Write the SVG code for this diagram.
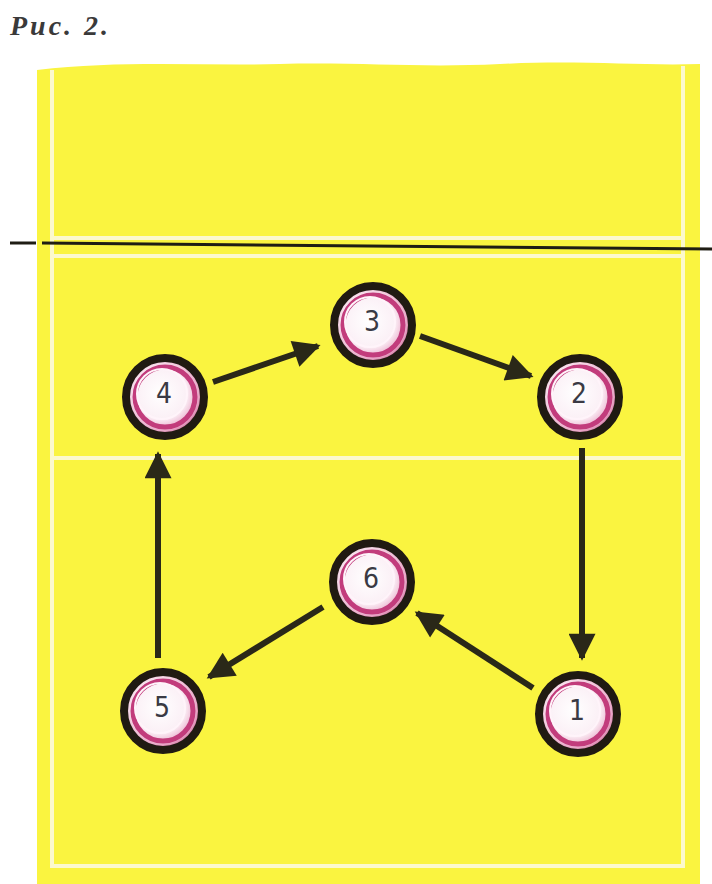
<svg xmlns="http://www.w3.org/2000/svg" width="712" height="884" viewBox="0 0 712 884">
  <style>
    .court { fill: #faf440; }
    .line { stroke: #fcf9cc; stroke-width: 4; fill: none; }
    .net { stroke: #1f1d14; stroke-width: 3; fill: none; }
    .ring { fill: url(#face); stroke: #201a12; stroke-width: 8; }
    .pink { fill: none; stroke: #c23c7c; stroke-width: 5; }
    .hl { fill: none; stroke: #fff4fa; stroke-width: 2; }
    .num { font-family: "DejaVu Sans Condensed", "DejaVu Sans", sans-serif; font-size: 28px; fill: #3a3a44; text-anchor: middle; dominant-baseline: central; }
    .arrow { stroke: #2a2818; stroke-width: 6; fill: none; marker-end: url(#head); }
    .title { font-family: "Liberation Serif", "DejaVu Serif", serif; font-size: 28px; font-weight: bold; font-style: italic; fill: #3a3a3a; letter-spacing: 3px; }
  </style>
  <defs>
    <radialGradient id="face" cx="0.45" cy="0.45" r="0.6">
      <stop offset="0" stop-color="#ffffff"/>
      <stop offset="0.55" stop-color="#fbf0f6"/>
      <stop offset="0.8" stop-color="#e9a8c8"/>
      <stop offset="1" stop-color="#b83a74"/>
    </radialGradient>
    <marker id="head" viewBox="0 0 10 10" refX="9" refY="5" markerWidth="5.5" markerHeight="4.5" orient="auto" markerUnits="strokeWidth">
      <path d="M0,0 L10,5 L0,10 z" fill="#2a2818"/>
    </marker>
  </defs>
  <rect width="712" height="884" fill="#ffffff"/>
  <text class="title" x="10" y="35">Рис. 2.</text>

  <g id="court">
    <path class="court" d="M37,70 C120,60 200,66 280,64 C360,62 420,68 500,64 C580,60 640,66 700,64 L700,884 L37,884 Z"/>
    <path class="line" d="M52,70 L52,866 L683,866 L683,66"/>
    <line class="line" x1="52" y1="238" x2="683" y2="238"/>
    <line class="line" x1="52" y1="256" x2="683" y2="256"/>
    <line class="line" x1="52" y1="458" x2="683" y2="458"/>
    <line class="net" x1="10" y1="243" x2="36" y2="243"/>
    <line class="net" x1="42" y1="243" x2="712" y2="249"/>
  </g>

  <g id="connectors">
    <line class="arrow" x1="213" y1="382" x2="318" y2="346"/>
    <line class="arrow" x1="420" y1="336" x2="531" y2="376"/>
    <line class="arrow" x1="582" y1="448" x2="582" y2="658"/>
    <line class="arrow" x1="533" y1="688" x2="417" y2="613"/>
    <line class="arrow" x1="323" y1="607" x2="209" y2="677"/>
    <line class="arrow" x1="158" y1="658" x2="158" y2="454"/>
  </g>

  <g id="node-3">
    <circle class="ring" cx="373" cy="325" r="39"/>
    <circle class="pink" cx="373" cy="325" r="30"/>
    <circle class="hl" cx="370" cy="322" r="25"/>
    <text class="num" x="372" y="321">3</text>
  </g>
  <g id="node-4">
    <circle class="ring" cx="165" cy="397" r="39"/>
    <circle class="pink" cx="165" cy="397" r="30"/>
    <circle class="hl" cx="162" cy="394" r="25"/>
    <text class="num" x="164" y="393">4</text>
  </g>
  <g id="node-2">
    <circle class="ring" cx="580" cy="397" r="39"/>
    <circle class="pink" cx="580" cy="397" r="30"/>
    <circle class="hl" cx="577" cy="394" r="25"/>
    <text class="num" x="579" y="393">2</text>
  </g>
  <g id="node-6">
    <circle class="ring" cx="372" cy="582" r="39"/>
    <circle class="pink" cx="372" cy="582" r="30"/>
    <circle class="hl" cx="369" cy="579" r="25"/>
    <text class="num" x="371" y="578">6</text>
  </g>
  <g id="node-5">
    <circle class="ring" cx="163" cy="711" r="39"/>
    <circle class="pink" cx="163" cy="711" r="30"/>
    <circle class="hl" cx="160" cy="708" r="25"/>
    <text class="num" x="162" y="707">5</text>
  </g>
  <g id="node-1">
    <circle class="ring" cx="578" cy="714" r="39"/>
    <circle class="pink" cx="578" cy="714" r="30"/>
    <circle class="hl" cx="575" cy="711" r="25"/>
    <text class="num" x="577" y="710">1</text>
  </g>
</svg>
